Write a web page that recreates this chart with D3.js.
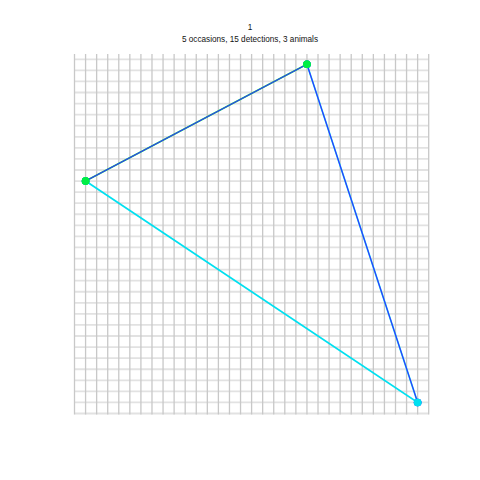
<!DOCTYPE html>
<html>
<head>
<meta charset="utf-8">
<script src="https://cdn.jsdelivr.net/npm/d3@7"></script>
<style>
  html, body { margin: 0; padding: 0; background: #ffffff; }
  svg { display: block; }
</style>
</head>
<body>
<script>
// ---- data ----
const titleLines = ["1", "5 occasions, 15 detections, 3 animals"];
// detector grid: column and row indices (33 x 33)
const gridCols = d3.range(0, 33);
const gridRows = d3.range(0, 33);
// animals: detection locations (grid column, grid row from top), in occasion order
const animalIds = ["a", "b", "c"];
const animalColors = ["#00e0f0", "#3a2cff", "#00ee44"];
const detectionsX = [
  [21, 31, 31, 1, 1],
  [1, 21, 21, 31, 31],
  [1, 21, 1, 21, 1]
];
const detectionsY = [
  [0.45, 31, 31, 11, 11],
  [11, 0.45, 0.45, 31, 31],
  [11, 0.45, 11, 0.45, 11]
];

// ---- drawing ----
const W = 480, H = 480;
const svg = d3.select("body").append("svg").attr("width", W).attr("height", H);

const x = d3.scaleLinear().domain([0, 32]).range([74.5, 428.7]);
const y = d3.scaleLinear().domain([0, 32]).range([59.3, 413.5]);

const grid = svg.append("g");
grid.selectAll("line.h").data(gridRows).join("line")
  .attr("class", "h")
  .attr("x1", x(0)).attr("x2", x(32))
  .attr("y1", d => y(d)).attr("y2", d => y(d))
  .attr("stroke", "#e2e2e2").attr("stroke-width", 1.8);
grid.selectAll("line.v").data(gridCols).join("line")
  .attr("class", "v")
  .attr("x1", d => x(d)).attr("x2", d => x(d))
  .attr("y1", y(-0.48)).attr("y2", y(32.09))
  .attr("stroke", "#c8c8c8").attr("stroke-width", 1.3);

const animals = animalIds.map((id, i) => ({
  id, color: animalColors[i],
  pts: detectionsX[i].map((dx, k) => [dx, detectionsY[i][k]])
}));

const line = d3.line().x(d => x(d[0])).y(d => y(d[1]));
const widths = [1.7, 1.1, 1.7];
const order = [0, 2, 1];
order.forEach(i => {
  svg.append("path").datum(animals[i].pts)
    .attr("d", line).attr("fill", "none")
    .attr("stroke", animals[i].color).attr("stroke-width", widths[i]);
});
[1, 0, 2].forEach(i => {
  svg.append("g").selectAll("circle").data(animals[i].pts).join("circle")
    .attr("cx", d => x(d[0])).attr("cy", d => y(d[1])).attr("r", 3.8)
    .attr("fill", animals[i].color);
});

svg.append("g").selectAll("text").data(titleLines).join("text")
  .attr("x", 250).attr("y", (d, i) => 30 + i * 11.5)
  .attr("text-anchor", "middle")
  .attr("font-family", "Liberation Sans, Arial, sans-serif")
  .attr("font-size", 8.2)
  .attr("fill", "#111")
  .text(d => d);
</script>
</body>
</html>
